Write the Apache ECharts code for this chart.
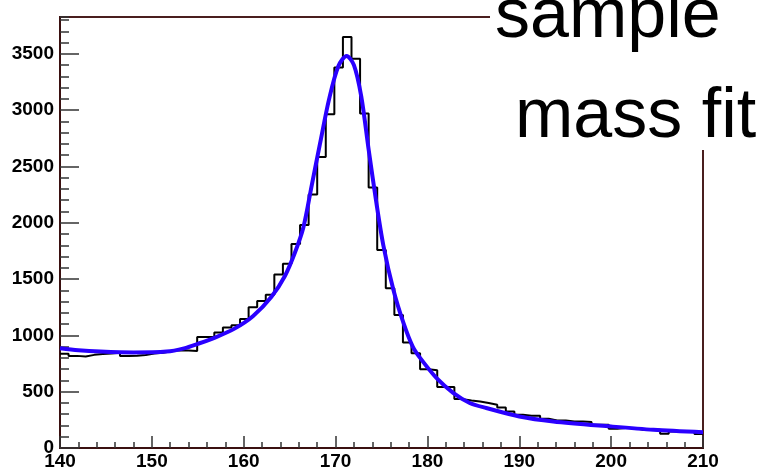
<!DOCTYPE html>
<html><head><meta charset="utf-8">
<script src="https://cdn.jsdelivr.net/npm/echarts@6/dist/echarts.min.js"></script>
<style>html,body{margin:0;padding:0;background:#fff}#c{width:769px;height:476px}</style>
</head><body><div id="c"></div>
<script>
// ---- data ----
const xMin = 140;
const xMax = 210;
const yMax = 3827;
const xTickInterval = 10;
const yTickInterval = 500;
// histogram bin contents (75 equal bins between xMin and xMax)
const binCounts = [
  836, 818, 812, 827, 835, 840, 845, 818, 820, 826,
  840, 845, 860, 868, 865, 862, 985, 985, 1025, 1069,
  1090, 1146, 1250, 1305, 1360, 1540, 1637, 1812, 1980, 2250,
  2585, 2963, 3378, 3649, 3457, 2970, 2312, 1758, 1418, 1182,
  936, 842, 700, 690, 541, 541, 434, 422, 413, 399,
  384, 360, 324, 295, 286, 286, 260, 245, 245, 236,
  236, 230, 207, 207, 171, 177, 177, 162, 162, 162,
  127, 147, 147, 142, 124
];
// fit curve points
const fitMass = [140, 142, 144.4, 148, 151.6, 153.5, 155, 157, 159, 161, 163, 164.5, 165.6, 166.5, 167.4, 168.3, 169.3, 170.3, 171.2, 172, 172.8, 173.6, 174.4, 175.2, 176.3, 177.4, 178.4, 179.2, 181, 182.8, 184.6, 186.4, 190, 193.7, 200, 204.6, 210];
const fitValue = [886, 868, 856, 848, 856, 885, 925, 985, 1060, 1170, 1340, 1530, 1740, 1960, 2330, 2700, 3100, 3390, 3480, 3400, 3120, 2650, 2200, 1800, 1403, 1108, 900, 800, 620, 490, 400, 355, 280, 236, 191, 162, 140];
const titleLines = ['sample', 'mass fit'];

// ---- build series data ----
const binWidth = (xMax - xMin) / binCounts.length;
const histData = [];
binCounts.forEach((v, i) => {
  histData.push([xMin + i * binWidth, v]);
  histData.push([xMin + (i + 1) * binWidth, v]);
});
const fitData = fitMass.map((m, i) => [m, fitValue[i]]);

const chart = echarts.init(document.getElementById('c'), null, {renderer: 'canvas'});
const labelFont = {fontFamily: 'Liberation Sans, Arial, sans-serif', fontWeight: 'bold', fontSize: 19, color: '#000'};
const axisCol = '#3a1010';
chart.setOption({
  animation: false,
  backgroundColor: '#fff',
  grid: {left: 60, right: 66, top: 17, bottom: 28, show: true, borderColor: '#4a1e1e', borderWidth: 2, backgroundColor: 'transparent'},
  xAxis: [{
    type: 'value', min: xMin, max: xMax, interval: xTickInterval,
    axisLine: {show: true, onZero: false, lineStyle: {color: axisCol, width: 2}},
    axisTick: {show: true, inside: true, length: 12, lineStyle: {color: '#333', width: 1.5}},
    minorTick: {show: true, splitNumber: 5, length: 6, lineStyle: {color: '#333', width: 1.5}},
    axisLabel: Object.assign({margin: 4, formatter: v => String(v)}, labelFont),
    splitLine: {show: false}
  }],
  yAxis: [{
    type: 'value', min: 0, max: yMax, interval: yTickInterval,
    axisLine: {show: true, lineStyle: {color: axisCol, width: 2}},
    axisTick: {show: true, inside: true, length: 19, lineStyle: {color: '#333', width: 1.5}},
    axisLabel: Object.assign({margin: 6, showMaxLabel: false, formatter: v => String(v)}, labelFont),
    splitLine: {show: false}
  }, {
    type: 'value', min: 0, max: yMax, interval: yTickInterval / 5, position: 'left',
    axisLine: {show: false},
    axisTick: {show: true, inside: true, length: 9, lineStyle: {color: '#333', width: 1.5}},
    axisLabel: {show: false},
    splitLine: {show: false}
  }],
  series: [{
    type: 'line', data: histData, showSymbol: false, symbol: 'none', sampling: null,
    lineStyle: {color: '#000', width: 2}, z: 2, silent: true
  }, {
    type: 'line', data: fitData, smooth: 0.3, showSymbol: false, symbol: 'none',
    lineStyle: {color: '#2a00ff', width: 4}, z: 3, silent: true
  }],
  graphic: [
    {type: 'rect', shape: {x: 490, y: 0, width: 279, height: 150}, style: {fill: '#fff'}, z: 100},
    {type: 'text', x: 495, y: 18, z: 101, style: {text: titleLines[0], font: '70px "Liberation Sans", Arial, sans-serif', fill: '#000', verticalAlign: 'middle', align: 'left'}},
    {type: 'text', x: 515, y: 118, z: 101, style: {text: titleLines[1], font: '70px "Liberation Sans", Arial, sans-serif', fill: '#000', verticalAlign: 'middle', align: 'left'}}
  ]
});
</script></body></html>
